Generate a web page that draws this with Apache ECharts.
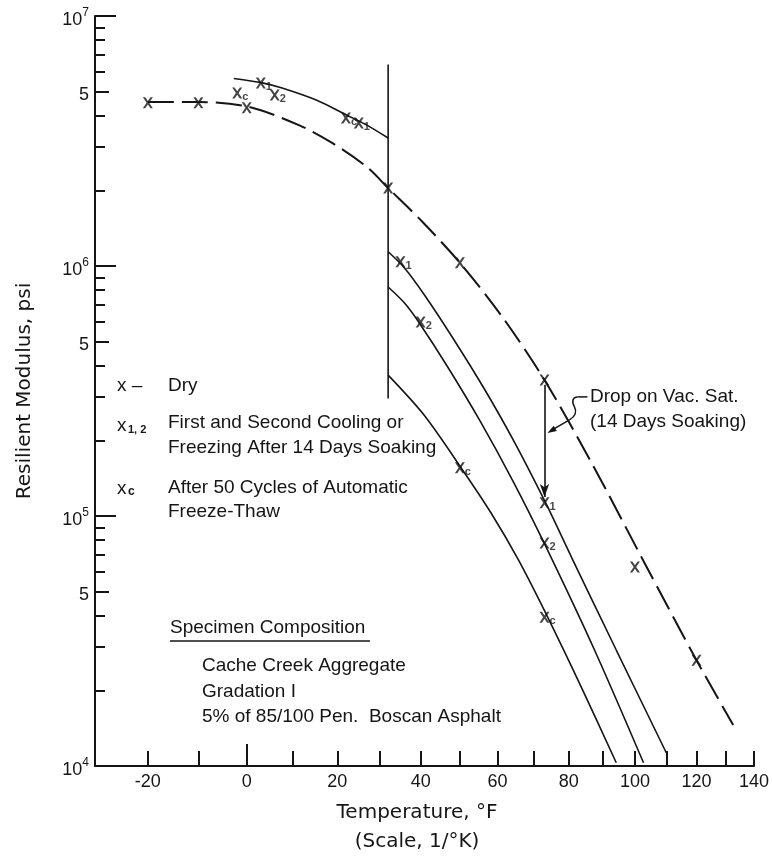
<!DOCTYPE html>
<html><head><meta charset="utf-8">
<script src="https://cdn.jsdelivr.net/npm/echarts@6/dist/echarts.min.js"></script>
<style>html,body{margin:0;padding:0;background:#fff}#c{width:772px;height:863px}</style>
</head><body><div id="c"></div>
<script>
// ---- axis ticks / labels ----
const tempTicks = [-20,-10,0,10,20,30,40,50,60,70,80,90,100,110,120,130,140];
const tempLabels = [-20,0,20,40,60,80,100,120,140];
const tempMin = -30, tempMax = 140;
const modDecades = [1e4,1e5,1e6,1e7];
const modFives = [5e4,5e5,5e6];
const modMinor = [2e4,3e4,4e4,6e4,7e4,8e4,9e4,2e5,3e5,4e5,6e5,7e5,8e5,9e5,2e6,3e6,4e6,6e6,7e6,8e6,9e6];
const modLabels = [1e4,5e4,1e5,5e5,1e6,5e6,1e7];

// ---- curves (temperature °F, resilient modulus psi) ----
const dryCurve = [[-20,4.53e6],[-10,4.53e6],[0.4,4.33e6],[11.3,3.66e6],[18.9,3.1e6],[26.9,2.49e6],[32,2.05e6],[40.3,1.51e6],[50,1.03e6],[61.1,6.31e5],[73,3.5e5],[87.4,1.57e5],[103.7,6.25e4],[120,2.65e4],[132.6,1.46e4]];
const preSoakCurve = [[-2.7,5.62e6],[3.3,5.4e6],[7.6,5.15e6],[15.2,4.61e6],[22.1,4.02e6],[26.9,3.66e6],[32,3.25e6]];
const freezeLine = [[32,6.4e6],[32,2.95e5]];
const cool1Curve = [[32,1.14e6],[36,9.82e5],[41.3,7.52e5],[48.5,5.06e5],[56.3,3.25e5],[64.3,2.01e5],[73.3,1.13e5],[80.9,6.79e4],[94.2,2.91e4],[110,1.13e4]];
const cool2Curve = [[32,8.24e5],[36,7.11e5],[39.5,5.97e5],[46.7,3.98e5],[55.3,2.4e5],[64.3,1.37e5],[73.3,7.59e4],[87.6,2.91e4],[102.7,1.03e4]];
const cycleCurve = [[32,3.66e5],[40.8,2.54e5],[50.3,1.56e5],[58.2,1.03e5],[65.7,6.67e4],[73.9,3.94e4],[83.8,2.05e4],[94.2,1.03e4]];

// ---- measured points ----
const dryPts = [[-20,4.5e6],[-10,4.5e6],[0,4.3e6],[32,2.05e6],[50,1.03e6],[73,3.5e5],[100,6.25e4],[120,2.65e4]];
const cool1Pts = [[3,5.4e6],[25,3.73e6],[35,1.04e6],[73,1.13e5]];
const cool2Pts = [[6,4.83e6],[40,5.97e5],[73,7.8e4]];
const cyclePts = [[-2,4.92e6],[22,3.91e6],[50,1.56e5],[73,3.94e4]];

// vac. sat. drop arrow
const dropArrow = [[73,3.35e5],[73,1.19e5]];

// scale 1/°K
const toU = F => -1000/((F-32)*5/9+273.15);
const fromU = u => ((-1000/u)-273.15)*9/5+32;
const xy = p => [toU(p[0]), Math.log10(p[1])];

const INK = '#151515';
const FONT = "'Liberation Sans', Arial, sans-serif";
const TFONT = "'DejaVu Sans', sans-serif";
const XSYM = 'path://M0,0 L2.4,0 L5,3.8 L7.6,0 L10,0 L6.3,5.5 L10,11 L7.6,11 L5,7.2 L2.4,11 L0,11 L3.7,5.5 Z';

const chart = echarts.init(document.getElementById('c'), null, {renderer:'canvas'});

const xBase = {type:'value', min: toU(tempMin), max: toU(tempMax), position:'bottom', splitLine:{show:false}};
const yBase = {type:'value', min: 4, max: 7, position:'left', splitLine:{show:false}};

function lineSeries(data, extra){
  return Object.assign({type:'line', data: data.map(xy), smooth:0.3, symbol:'none', silent:true,
    lineStyle:{color:INK, width:1.6}}, extra||{});
}
function ptSeries(data, sub){
  return {type:'scatter', data: data.map(xy), symbol: XSYM, symbolSize:[10,11], silent:true,
    itemStyle:{color:INK},
    label:{show:!!sub, formatter: sub||'', position:[10,4], fontSize:11, fontWeight:'bold', color:INK, fontFamily:FONT}};
}

chart.setOption({
  animation:false,
  backgroundColor:'#fff',
  grid:{left:95, right:17, top:16, bottom:97},
  xAxis:[
    Object.assign({}, xBase, {
      axisLine:{lineStyle:{color:INK, width:2}},
      axisTick:{inside:true, length:15, lineStyle:{color:INK, width:2}, customValues: tempTicks.filter(t=>t!==0).map(toU)},
      axisLabel:{customValues: tempLabels.map(toU), formatter: v => String(Math.round(fromU(v))), color:INK, fontSize:18, margin:7, fontFamily:FONT}
    }),
    Object.assign({}, xBase, {
      axisLine:{show:false},
      axisTick:{inside:true, length:22, lineStyle:{color:INK, width:2}, customValues:[toU(0)]},
      axisLabel:{show:false}
    })
  ],
  yAxis:[
    Object.assign({}, yBase, {
      axisLine:{lineStyle:{color:INK, width:2}},
      axisTick:{inside:true, length:21, lineStyle:{color:INK, width:2}, customValues: modDecades.map(Math.log10)},
      axisLabel:{customValues: modLabels.map(Math.log10), margin:6, color:INK, fontFamily:FONT,
        formatter: v => Math.abs(v-Math.round(v))<1e-6 ? '{b|10}{s|'+Math.round(v)+'}' : '{b|5}',
        rich:{b:{fontSize:18, fontFamily:FONT, color:INK, padding:[8,0,0,0]}, s:{fontSize:12, fontFamily:FONT, color:INK, padding:[0,0,6,0]}}}
    }),
    Object.assign({}, yBase, {
      axisLine:{show:false},
      axisTick:{inside:true, length:14, lineStyle:{color:INK, width:2}, customValues: modFives.map(Math.log10)},
      axisLabel:{show:false}
    }),
    Object.assign({}, yBase, {
      axisLine:{show:false},
      axisTick:{inside:true, length:10, lineStyle:{color:INK, width:2}, customValues: modMinor.map(Math.log10)},
      axisLabel:{show:false}
    })
  ],
  series:[
    lineSeries(dryCurve, {lineStyle:{color:INK, width:2, type:[26,8]}}),
    lineSeries(preSoakCurve),
    lineSeries(freezeLine, {smooth:false,
      markLine:{silent:true, symbol:['none','arrow'], symbolSize:[7,13], label:{show:false},
        lineStyle:{color:INK, width:1.6, type:'solid'},
        data:[[{coord: xy(dropArrow[0])},{coord: xy(dropArrow[1])}]]}}),
    lineSeries(cool1Curve),
    lineSeries(cool2Curve),
    lineSeries(cycleCurve),
    ptSeries(dryPts, null),
    ptSeries(cool1Pts, '1'),
    ptSeries(cool2Pts, '2'),
    ptSeries(cyclePts, 'c')
  ]
});

function txt(x, y, s, opt){
  return Object.assign({type:'text', x:x, y:y, silent:true,
    style:Object.assign({text:s, font:'19px '+FONT, fill:INK, align:'left', verticalAlign:'middle'}, (opt&&opt.style)||{})},
    opt&&opt.el||{});
}
const anchor = chart.convertToPixel({gridIndex:0}, xy([73, 2.15e5]));
const ls = {stroke:INK, lineWidth:1.5, fill:null};

chart.setOption({graphic:[
  txt(117, 386, 'x –'), txt(168, 386, 'Dry'),
  txt(117, 426, 'x'), txt(128, 430, '1, 2', {style:{font:'bold 11px '+FONT}}),
  txt(168, 423, 'First and Second Cooling or'), txt(168, 448, 'Freezing After 14 Days Soaking'),
  txt(117, 489, 'x'), txt(128, 492, 'c', {style:{font:'bold 12px '+FONT}}),
  txt(168, 488, 'After 50 Cycles of Automatic'), txt(168, 512, 'Freeze-Thaw'),
  txt(170, 628, 'Specimen Composition'),
  {type:'line', silent:true, shape:{x1:170, y1:641, x2:370, y2:641}, style:{stroke:INK, lineWidth:1.5}},
  txt(202, 666, 'Cache Creek Aggregate'), txt(202, 692, 'Gradation I'),
  txt(202, 717, '5% of 85/100 Pen.  Boscan Asphalt'),
  txt(590, 397, 'Drop on Vac. Sat.'), txt(590, 422, '(14 Days Soaking)'),
  {type:'group', x: anchor[0], y: anchor[1], silent:true, children:[
    {type:'polyline', shape:{points:[[43,-36],[33,-36]]}, style:ls},
    {type:'bezierCurve', shape:{x1:33,y1:-36,cpx1:28,cpy1:-36,cpx2:27,cpy2:-31,x2:30,y2:-26}, style:ls},
    {type:'bezierCurve', shape:{x1:30,y1:-26,cpx1:33,cpy1:-20,cpx2:30,cpy2:-16,x2:25,y2:-13}, style:ls},
    {type:'polyline', shape:{points:[[25,-13],[6,-2]]}, style:ls},
    {type:'polygon', shape:{points:[[3,0],[12.3,-2.0],[9.2,-7.2]]}, style:{fill:INK}}
  ]},
  txt(417, 813, 'Temperature, °F', {style:{font:'20px '+TFONT, align:'center'}}),
  txt(417, 842, '(Scale, 1/°K)', {style:{font:'20px '+TFONT, align:'center'}}),
  txt(25, 391, 'Resilient Modulus, psi', {style:{font:'20px '+TFONT, align:'center'}, el:{rotation:Math.PI/2}})
]});
</script></body></html>
